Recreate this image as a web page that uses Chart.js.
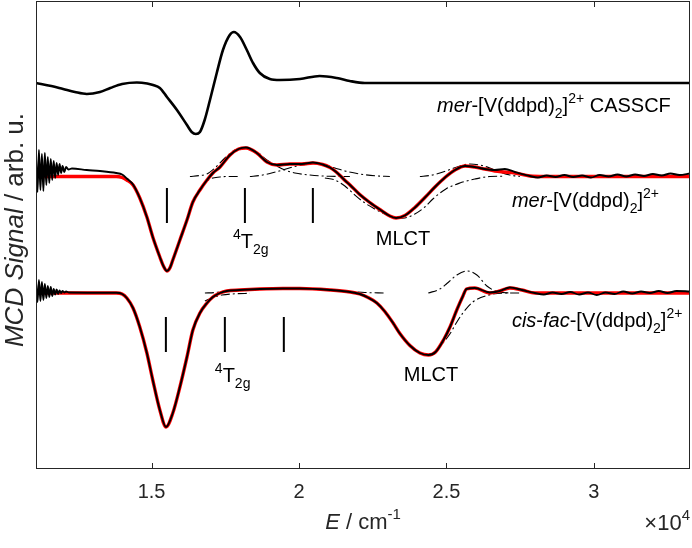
<!DOCTYPE html>
<html>
<head>
<meta charset="utf-8">
<script src="https://cdn.jsdelivr.net/npm/chart.js@4.4.0/dist/chart.umd.min.js"></script>
<style>
  html, body { margin: 0; padding: 0; background: #fff; }
</style>
</head>
<body>
<canvas id="mcd" width="692" height="548"></canvas>
<script>
// x: wavenumber E / cm^-1, y: MCD signal (arb. u., traces stacked)
const xTickValues = [15000, 20000, 25000, 30000];

const casscf = [[11080,3.86],[11600,3.83],[12000,3.80],[12400,3.77],[12800,3.75],[13250,3.77],[13600,3.81],[14000,3.85],[14500,3.865],[14850,3.855],[15050,3.84],[15280,3.81],[15520,3.72],[15860,3.59],[16200,3.44],[16360,3.37],[16500,3.35],[16640,3.37],[16800,3.49],[16980,3.69],[17210,3.96],[17420,4.19],[17650,4.34],[17790,4.37],[18000,4.32],[18230,4.19],[18440,4.06],[18670,3.96],[19010,3.90],[19350,3.89],[20030,3.90],[20700,3.93],[21280,3.91],[21720,3.88],[22230,3.86],[33260,3.86]];

const merFit = [[11080,2.925],[13800,2.925],[14000,2.915],[14160,2.89],[14370,2.84],[14600,2.71],[14840,2.52],[15040,2.32],[15280,2.12],[15400,2.03],[15520,1.98],[15620,2.01],[15720,2.09],[15960,2.29],[16200,2.49],[16400,2.67],[16640,2.79],[16880,2.89],[17080,2.96],[17320,3.02],[17660,3.14],[17950,3.20],[18200,3.21],[18570,3.16],[18910,3.07],[19250,3.04],[19690,3.05],[20100,3.05],[20470,3.06],[20800,3.045],[21050,3.015],[21220,2.98],[21390,2.935],[21560,2.885],[21730,2.84],[22060,2.745],[22400,2.665],[22740,2.595],[23080,2.53],[23290,2.51],[23590,2.535],[23930,2.615],[24270,2.715],[24610,2.82],[24950,2.915],[25290,2.99],[25630,3.03],[25960,3.02],[26300,3.00],[26640,2.98],[26980,2.97],[27320,2.96],[27830,2.93],[28300,2.925],[33260,2.925]];

const merExp = [[11080,3.12],[11130,2.77],[11180,3.19],[11230,2.79],[11280,3.15],[11330,2.78],[11380,3.16],[11430,2.84],[11480,3.12],[11530,2.86],[11580,3.10],[11630,2.89],[11680,3.08],[11730,2.91],[11780,3.06],[11830,2.94],[11880,3.05],[11930,2.96],[11980,3.03],[12040,2.97],[12100,3.02],[12180,2.995],[12300,3.005],[12800,2.99],[13250,2.98],[13800,2.96],[14000,2.945],[14160,2.905],[14370,2.845],[14600,2.71],[14840,2.52],[15040,2.32],[15280,2.12],[15400,2.03],[15520,1.98],[15620,2.01],[15720,2.09],[15960,2.29],[16200,2.49],[16400,2.67],[16640,2.79],[16880,2.89],[17080,2.96],[17320,3.02],[17660,3.14],[17950,3.20],[18200,3.215],[18570,3.16],[18910,3.07],[19250,3.04],[19690,3.05],[20100,3.05],[20470,3.065],[20800,3.045],[21050,3.015],[21220,2.98],[21390,2.935],[21560,2.885],[21730,2.84],[22060,2.745],[22400,2.665],[22740,2.595],[23080,2.53],[23290,2.51],[23590,2.535],[23930,2.615],[24270,2.715],[24610,2.82],[24950,2.915],[25290,2.99],[25630,3.03],[25960,3.02],[26300,3.00],[26640,2.99],[26980,3.00],[27320,2.97],[27830,2.93],[28100,2.915],[28400,2.935],[28700,2.92],[29000,2.94],[29300,2.92],[29600,2.935],[29900,2.915],[30200,2.94],[30500,2.925],[30800,2.945],[31100,2.925],[31400,2.945],[31700,2.93],[32000,2.95],[32300,2.935],[32600,2.955],[32900,2.94],[33260,2.955]];

const cisFit = [[11080,1.76],[13800,1.76],[14000,1.75],[14160,1.71],[14370,1.61],[14600,1.42],[14840,1.16],[15040,0.89],[15280,0.59],[15490,0.42],[15720,0.56],[15960,0.82],[16200,1.12],[16400,1.39],[16640,1.56],[16880,1.66],[17080,1.72],[17320,1.76],[17550,1.78],[17990,1.79],[18670,1.80],[19450,1.805],[20030,1.805],[21050,1.79],[21730,1.77],[22060,1.75],[22340,1.715],[22640,1.66],[22910,1.575],[23190,1.46],[23420,1.355],[23760,1.235],[24100,1.16],[24390,1.14],[24630,1.17],[24900,1.29],[25120,1.42],[25350,1.59],[25560,1.73],[25680,1.80],[25960,1.81],[26470,1.76],[26810,1.78],[27150,1.81],[27560,1.79],[28000,1.76],[33260,1.76]];

const cisExp = [[11080,1.86],[11130,1.67],[11180,1.89],[11230,1.68],[11280,1.87],[11330,1.69],[11380,1.85],[11430,1.71],[11480,1.83],[11530,1.72],[11580,1.82],[11630,1.73],[11680,1.80],[11730,1.745],[11780,1.795],[11830,1.75],[11880,1.785],[11930,1.76],[11980,1.78],[12040,1.765],[12100,1.775],[12200,1.765],[13800,1.762],[14000,1.75],[14160,1.71],[14370,1.61],[14600,1.42],[14840,1.16],[15040,0.89],[15280,0.59],[15490,0.42],[15720,0.56],[15960,0.82],[16200,1.12],[16400,1.39],[16640,1.56],[16880,1.66],[17080,1.72],[17320,1.76],[17550,1.78],[17990,1.79],[18670,1.80],[19450,1.805],[20030,1.805],[21050,1.79],[21730,1.77],[22060,1.75],[22340,1.715],[22640,1.66],[22910,1.575],[23190,1.46],[23420,1.355],[23760,1.235],[24100,1.16],[24390,1.14],[24630,1.17],[24900,1.29],[25120,1.42],[25350,1.59],[25560,1.73],[25680,1.80],[25960,1.81],[26470,1.765],[26810,1.78],[27150,1.815],[27560,1.79],[28000,1.76],[28300,1.745],[28600,1.765],[28900,1.75],[29200,1.77],[29500,1.745],[29800,1.765],[30100,1.74],[30400,1.765],[30700,1.75],[31000,1.775],[31300,1.755],[31600,1.775],[31900,1.76],[32200,1.78],[32500,1.76],[32800,1.78],[33260,1.775]];

// fitted band components (dash-dot)
const merBand1 = [[16300,2.925],[16640,2.935],[16875,2.95],[17146,3.01],[17486,3.11],[17825,3.19],[18198,3.21],[18571,3.17],[18910,3.09],[19249,3.03],[19520,2.99],[19860,2.96],[20368,2.94],[21046,2.927],[21725,2.925]];
const merBand2 = [[16640,2.79],[16810,2.86],[16980,2.90],[17316,2.92],[17655,2.925],[18000,2.925]];
const merBand3 = [[18334,2.925],[18673,2.935],[19012,2.955],[19453,2.99],[19860,3.025],[20199,3.045],[20538,3.055],[20877,3.04],[21216,3.01],[21555,2.98],[22064,2.95],[22573,2.932],[23081,2.925]];
const merBand4 = [[20877,2.91],[21216,2.89],[21555,2.83],[21894,2.74],[22233,2.66],[22573,2.60],[22912,2.55],[23285,2.505],[23590,2.51],[23929,2.55],[24268,2.62],[24540,2.70],[24981,2.80],[25455,2.86],[25964,2.90],[26473,2.925],[26981,2.928]];
const merBand5 = [[24099,2.925],[24438,2.935],[24777,2.96],[25116,2.995],[25455,3.03],[25794,3.05],[26134,3.04],[26473,3.01],[26812,2.97],[27151,2.94],[27490,2.925]];

const cisBand1 = [[16808,1.76],[17146,1.765],[17486,1.78],[17825,1.79],[18673,1.80],[19690,1.805],[21046,1.79],[21725,1.775],[22233,1.765],[22912,1.76]];
const cisBand2 = [[16808,1.68],[17079,1.715],[17384,1.74],[17825,1.752],[18334,1.757]];
const cisBand3 = [[24608,1.17],[24879,1.26],[25116,1.35],[25354,1.47],[25557,1.56],[25896,1.67],[26371,1.735],[27049,1.76],[27490,1.76]];
const cisBand4 = [[24384,1.76],[24777,1.80],[25015,1.855],[25354,1.94],[25693,1.98],[26032,1.94],[26371,1.83],[26710,1.775],[27151,1.76]];

// transition markers
const merBarE = [15520, 18165, 20470];
const merBarY = [2.81, 2.46];
const cisBarE = [15485, 17485, 19485];
const cisBarY = [1.52, 1.17];

const FONT = '"Liberation Sans", Arial, Helvetica, sans-serif';
const AXIS_GREY = '#262626';

const labels = [
    { x: 24680, y: 3.57, align: 'left', parts: [['mer', 'i'], ['-[V(ddpd)', ''], ['2', 'sub'], [']', ''], ['2+', 'sup'], [' CASSCF', '']] },
    { x: 27220, y: 2.62, align: 'left', parts: [['mer', 'i'], ['-[V(ddpd)', ''], ['2', 'sub'], [']', ''], ['2+', 'sup']] },
    { x: 27220, y: 1.42, align: 'left', parts: [['cis', 'i'], ['-', ''], ['fac', 'i'], ['-[V(ddpd)', ''], ['2', 'sub'], [']', ''], ['2+', 'sup']] },
    { x: 17757, y: 2.21, align: 'left', parts: [['4', 'sup'], ['T', ''], ['2g', 'sub']] },
    { x: 23525, y: 2.24, align: 'center', parts: [['MLCT', '']] },
    { x: 17146, y: 0.87, align: 'left', parts: [['4', 'sup'], ['T', ''], ['2g', 'sub']] },
    { x: 24475, y: 0.88, align: 'center', parts: [['MLCT', '']] }
];

function richText(ctx, x, y, parts, size, align, color) {
    const small = Math.round(size * 0.7);
    const fontOf = (st) => {
        if (st === 'i') return 'italic ' + size + 'px ' + FONT;
        if (st === 'sub' || st === 'sup') return small + 'px ' + FONT;
        return size + 'px ' + FONT;
    };
    let total = 0;
    parts.forEach(p => { ctx.font = fontOf(p[1]); total += ctx.measureText(p[0]).width; });
    let cx = x;
    if (align === 'center') cx = x - total / 2;
    if (align === 'right') cx = x - total;
    ctx.fillStyle = color;
    ctx.textAlign = 'left';
    ctx.textBaseline = 'alphabetic';
    parts.forEach(p => {
        ctx.font = fontOf(p[1]);
        let dy = 0;
        if (p[1] === 'sub') dy = size * 0.3;
        if (p[1] === 'sup') dy = -size * 0.45;
        ctx.fillText(p[0], cx, y + dy);
        cx += ctx.measureText(p[0]).width;
    });
}

const decorations = {
    id: 'decorations',
    afterDraw(chart) {
        const ctx = chart.ctx;
        const a = chart.chartArea;
        const xs = chart.scales.x, ys = chart.scales.y;
        ctx.save();
        // frame and inward ticks
        ctx.strokeStyle = AXIS_GREY;
        ctx.lineWidth = 1;
        ctx.strokeRect(a.left + 0.5, a.top + 0.5, a.right - a.left - 1, a.bottom - a.top - 1);
        xs.ticks.forEach(t => {
            const px = Math.round(xs.getPixelForValue(t.value)) + 0.5;
            ctx.beginPath();
            ctx.moveTo(px, a.bottom); ctx.lineTo(px, a.bottom - 6);
            ctx.moveTo(px, a.top); ctx.lineTo(px, a.top + 6);
            ctx.stroke();
        });
        // annotations
        labels.forEach(l => {
            richText(ctx, xs.getPixelForValue(l.x), ys.getPixelForValue(l.y), l.parts, 20, l.align, '#000');
        });
        // axis titles
        richText(ctx, (a.left + a.right) / 2, 529, [['E', 'i'], [' / cm', ''], ['-1', 'sup']], 22, 'center', AXIS_GREY);
        richText(ctx, a.right, 530, [['\u00d710', ''], ['4', 'sup']], 22, 'right', AXIS_GREY);
        ctx.translate(23, 230);
        ctx.rotate(-Math.PI / 2);
        richText(ctx, 0, 0, [['MCD Signal', 'i'], [' / arb. u.', '']], 26, 'center', AXIS_GREY);
        ctx.restore();
    }
};

function toPts(arr) { return arr.map(p => ({ x: p[0], y: p[1] })); }

function curve(arr, color, width, order, dash) {
    return {
        data: toPts(arr),
        borderColor: color,
        borderWidth: width,
        borderDash: dash || [],
        pointRadius: 0,
        fill: false,
        cubicInterpolationMode: 'monotone',
        order: order
    };
}

function bar(e, yr) {
    return {
        data: [{ x: e, y: yr[0] }, { x: e, y: yr[1] }],
        borderColor: '#000',
        borderWidth: 2,
        pointRadius: 0,
        tension: 0,
        order: 0
    };
}

const DASHDOT = [9, 3, 2, 3];
const datasets = [
    curve(casscf, '#000', 2.6, 1),
    curve(merExp, '#000', 1.9, 1),
    curve(cisExp, '#000', 1.9, 1),
    curve(merFit, '#ff0000', 3.4, 2),
    curve(cisFit, '#ff0000', 3.4, 2),
    curve(merBand1, '#000', 1.1, 3, DASHDOT),
    curve(merBand2, '#000', 1.1, 3, DASHDOT),
    curve(merBand3, '#000', 1.1, 3, DASHDOT),
    curve(merBand4, '#000', 1.1, 3, DASHDOT),
    curve(merBand5, '#000', 1.1, 3, DASHDOT),
    curve(cisBand1, '#000', 1.1, 3, DASHDOT),
    curve(cisBand2, '#000', 1.1, 3, DASHDOT),
    curve(cisBand3, '#000', 1.1, 3, DASHDOT),
    curve(cisBand4, '#000', 1.1, 3, DASHDOT)
];
merBarE.forEach(e => datasets.push(bar(e, merBarY)));
cisBarE.forEach(e => datasets.push(bar(e, cisBarY)));

new Chart(document.getElementById('mcd'), {
    type: 'line',
    data: { datasets: datasets },
    options: {
        responsive: false,
        animation: false,
        events: [],
        layout: { padding: { left: 36, right: 2, top: 1, bottom: 0 } },
        plugins: { legend: { display: false }, tooltip: { enabled: false } },
        scales: {
            x: {
                type: 'linear',
                min: 11080,
                max: 33260,
                afterBuildTicks: s => { s.ticks = xTickValues.map(v => ({ value: v })); },
                afterFit: s => { s.height = 79; },
                grid: { display: false },
                border: { display: false },
                ticks: {
                    padding: 3,
                    color: AXIS_GREY,
                    font: { family: FONT, size: 20 },
                    maxRotation: 0,
                    callback: v => String(v / 10000)
                }
            },
            y: {
                type: 'linear',
                display: false,
                min: 0,
                max: 4.68
            }
        }
    },
    plugins: [decorations]
});
</script>
</body>
</html>
